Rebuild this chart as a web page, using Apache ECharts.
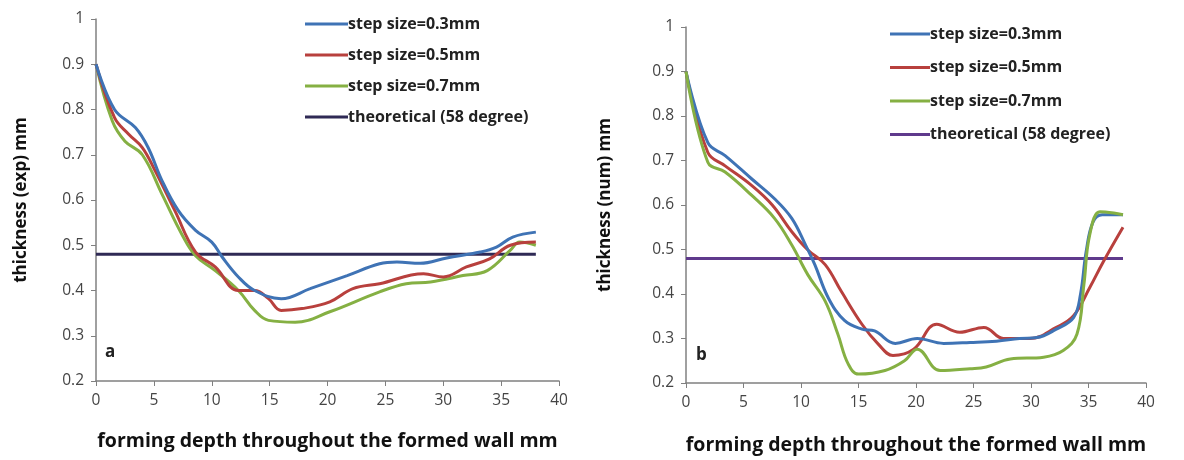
<!DOCTYPE html>
<html>
<head>
<meta charset="utf-8">
<title>thickness vs forming depth</title>
<script src="https://cdn.jsdelivr.net/npm/echarts@6/dist/echarts.min.js"></script>
<style>
  html, body { margin: 0; padding: 0; background: #fff; }
  #chart { width: 1184px; height: 460px; }
</style>
</head>
<body>
<div id="chart"></div>
<script>
// legend names
var names = ['step size=0.3mm', 'step size=0.5mm', 'step size=0.7mm', 'theoretical (58 degree)'];
var xTicks = [0, 5, 10, 15, 20, 25, 30, 35, 40];
var yTicks = [0.2, 0.3, 0.4, 0.5, 0.6, 0.7, 0.8, 0.9, 1];

// (a) experimental thickness, [depth mm, thickness mm]
var expStep03 = [[0,0.9],[1.6,0.80],[3.4,0.76],[4.5,0.716],[5.7,0.643],[7.1,0.577],[8.6,0.533],[10,0.507],
  [10.9,0.474],[12.3,0.43],[13.7,0.40],[16,0.382],[18.5,0.404],[21.7,0.433],[24.5,0.459],[26,0.463],
  [28,0.46],[30.3,0.472],[33.2,0.485],[34.6,0.496],[36,0.518],[38,0.529]];
var expStep05 = [[0,0.9],[1.6,0.782],[2.8,0.746],[4,0.716],[5.1,0.665],[6.8,0.577],[8.6,0.485],[10.3,0.452],
  [12.3,0.40],[13.7,0.40],[14.9,0.382],[16,0.356],[17.8,0.36],[20.2,0.375],[22.2,0.404],[24.5,0.415],
  [28.3,0.437],[30,0.43],[32,0.452],[34,0.47],[35.8,0.50],[38,0.507]];
var expStep07 = [[0,0.9],[1.4,0.775],[2.5,0.73],[4,0.70],[5.7,0.613],[7.4,0.525],[8.6,0.477],[10.3,0.444],
  [12.3,0.40],[13.7,0.356],[14.9,0.334],[17.2,0.33],[20.2,0.353],[24.5,0.397],[26.8,0.415],[28.9,0.419],
  [31.7,0.433],[33.8,0.444],[35.8,0.489],[36.6,0.507],[38,0.50]];
var expTheory = [[0,0.48],[38,0.48]];

// (b) numerical thickness
var numStep03 = [[0,0.9],[1.9,0.74],[3.4,0.711],[5.7,0.659],[7.7,0.614],[9.2,0.57],[10.4,0.51],[11.2,0.466],
  [12.4,0.39],[13.8,0.34],[15.3,0.321],[16.4,0.317],[18.2,0.289],[20.1,0.30],[22.4,0.289],[24.7,0.291],
  [27,0.294],[29,0.30],[30.5,0.302],[32.2,0.321],[33.7,0.347],[34.3,0.399],[34.8,0.496],[35.4,0.562],
  [36.2,0.578],[38,0.578]];
var numStep05 = [[0,0.9],[1.9,0.718],[3.4,0.688],[5.7,0.644],[7.5,0.60],[9.2,0.54],[10.6,0.499],[12.1,0.466],
  [13.5,0.406],[15.3,0.332],[16.7,0.288],[18,0.262],[19.8,0.276],[21.8,0.332],[23.8,0.314],[25.9,0.325],
  [27.6,0.30],[29.9,0.30],[32.2,0.325],[33.7,0.351],[35.1,0.414],[36.3,0.473],[38,0.55]];
var numStep07 = [[0,0.9],[1.9,0.696],[3.4,0.674],[5.7,0.622],[7.7,0.57],[9.2,0.51],[10.6,0.443],[12.1,0.384],
  [13.2,0.31],[14.1,0.243],[15,0.22],[17.3,0.228],[19,0.25],[20.1,0.276],[22.1,0.228],[24.7,0.232],
  [26.1,0.236],[28.2,0.254],[31.1,0.258],[32.8,0.273],[34,0.31],[34.6,0.421],[35.1,0.532],[36,0.585],
  [37.2,0.582],[38,0.578]];
var numTheory = [[0,0.48],[38,0.48]];

var lineColors = ['#3f73b5', '#b8403d', '#85b043'];
var theoryColors = ['#2f2a55', '#5f3a8c'];

var fontFam = '"Open Sans", "DejaVu Sans", sans-serif';

function xAxisFor(idx, name, gap) {
  return {
    type: 'value', gridIndex: idx, min: 0, max: 40, interval: 5,
    name: name, nameLocation: 'middle', nameGap: gap,
    nameTextStyle: { color: '#111', fontSize: 19.5, fontWeight: 'bold', fontFamily: fontFam },
    axisLine: { lineStyle: { color: '#808080', width: 1.5 } },
    axisTick: { show: true, length: 5, lineStyle: { color: '#808080' } },
    axisLabel: { color: '#444', fontSize: 15.5, margin: 12, fontFamily: fontFam },
    splitLine: { show: false }
  };
}
function yAxisFor(idx, name, gap) {
  return {
    type: 'value', gridIndex: idx, min: 0.2, max: 1, interval: 0.1,
    name: name, nameLocation: 'middle', nameGap: gap, nameRotate: 90,
    nameTextStyle: { color: '#111', fontSize: 17, fontWeight: 'bold', fontFamily: fontFam },
    axisLine: { show: true, lineStyle: { color: '#808080', width: 1.5 } },
    axisTick: { show: true, length: 5, lineStyle: { color: '#808080' } },
    axisLabel: { color: '#444', fontSize: 15.5, margin: 12, fontFamily: fontFam,
      formatter: function (v) { return String(Math.round(v * 10) / 10); } },
    splitLine: { show: false }
  };
}
function lineSeries(name, idx, data, color, w) {
  return {
    name: name, type: 'line', xAxisIndex: idx, yAxisIndex: idx,
    data: data, smooth: 0.4, symbol: 'none',
    lineStyle: { color: color, width: w || 3 },
    itemStyle: { color: color }
  };
}

var myChart = echarts.init(document.getElementById('chart'));
var option = {
  backgroundColor: '#fff',
  animation: false,
  grid: [
    { left: 96, top: 19, width: 463, height: 362 },
    { left: 686, top: 27, width: 460, height: 359 }
  ],
  legend: [
    { left: 300, top: 11, orient: 'vertical', itemGap: 15, itemWidth: 43, itemHeight: 3, icon: 'rect',
      textStyle: { fontSize: 16, fontWeight: 'bold', color: '#222', fontFamily: fontFam, padding: [0, 0, 0, -5] },
      data: names.map(function (n) { return { name: n }; }) },
    { left: 885, top: 21, orient: 'vertical', itemGap: 17.5, itemWidth: 40, itemHeight: 3, icon: 'rect',
      textStyle: { fontSize: 16, fontWeight: 'bold', color: '#222', fontFamily: fontFam, padding: [0, 0, 0, -5] },
      data: names.map(function (n) { return { name: n + ' ' }; }) }
  ],
  xAxis: [
    xAxisFor(0, 'forming depth throughout the formed wall mm', 50),
    xAxisFor(1, 'forming depth throughout the formed wall mm', 52)
  ],
  yAxis: [
    yAxisFor(0, 'thickness (exp) mm', 66),
    yAxisFor(1, 'thickness (num) mm', 72)
  ],
  series: [
    lineSeries(names[3], 0, expTheory, theoryColors[0], 3),
    lineSeries(names[2], 0, expStep07, lineColors[2]),
    lineSeries(names[1], 0, expStep05, lineColors[1]),
    lineSeries(names[0], 0, expStep03, lineColors[0]),
    lineSeries(names[3] + ' ', 1, numTheory, theoryColors[1], 3),
    lineSeries(names[1] + ' ', 1, numStep05, lineColors[1]),
    lineSeries(names[0] + ' ', 1, numStep03, lineColors[0]),
    lineSeries(names[2] + ' ', 1, numStep07, lineColors[2])
  ],
  graphic: [
    { type: 'text', left: 105, top: 344, style: { text: 'a', fill: '#222', font: 'bold 17px ' + fontFam } },
    { type: 'text', left: 696, top: 347, style: { text: 'b', fill: '#222', font: 'bold 17px ' + fontFam } }
  ]
};
myChart.setOption(option);
</script>
</body>
</html>
